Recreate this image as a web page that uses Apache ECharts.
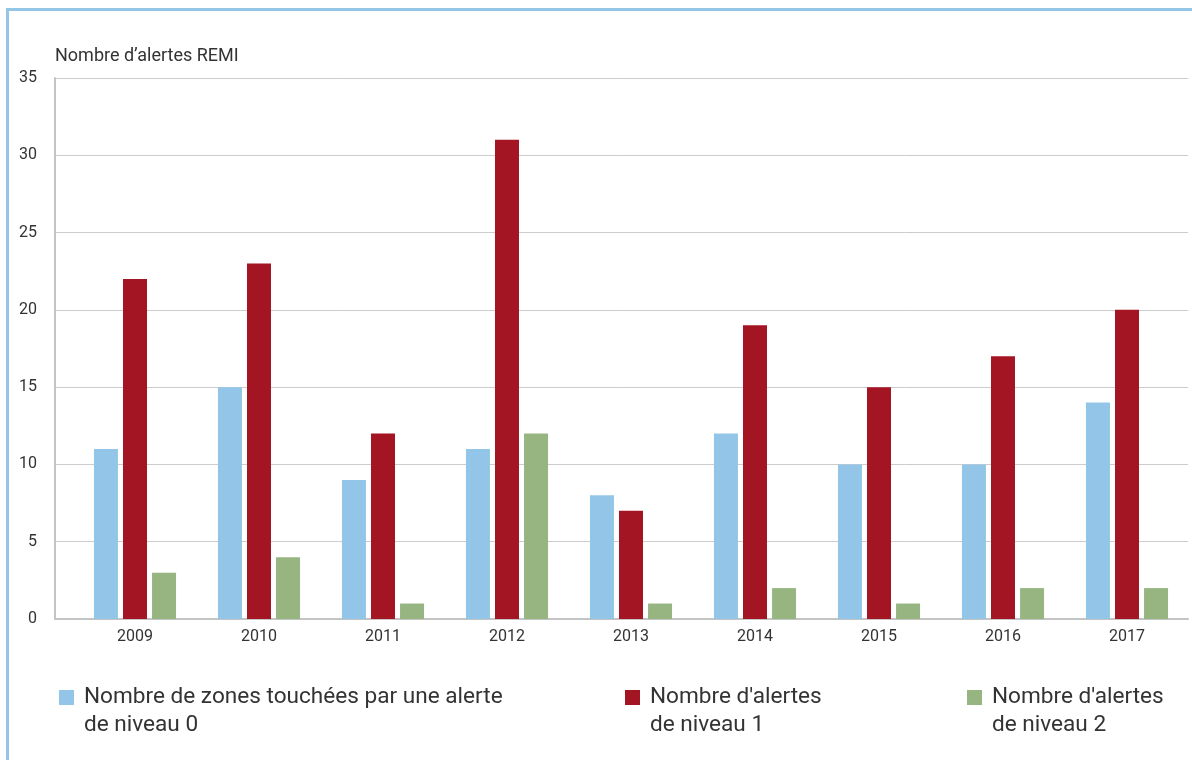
<!DOCTYPE html>
<html><head><meta charset="utf-8">
<script src="https://cdn.jsdelivr.net/npm/echarts@6/dist/echarts.min.js"></script>
<style>
html,body{margin:0;padding:0;background:#fff;}
#c{width:1192px;height:760px;position:absolute;left:0;top:0;}
#frame{position:absolute;left:6px;top:8px;width:1186px;height:752px;border-top:3px solid #93C5E9;border-left:3px solid #93C5E9;box-sizing:border-box;pointer-events:none;}
</style></head>
<body>
<div id="c"></div>
<div id="frame"></div>
<script>
const years = ['2009','2010','2011','2012','2013','2014','2015','2016','2017'];
const niveau0 = [11, 15, 9, 11, 8, 12, 10, 10, 14];
const niveau1 = [22, 23, 12, 31, 7, 19, 15, 17, 20];
const niveau2 = [3, 4, 1, 12, 1, 2, 1, 2, 2];
const names = ['Nombre de zones touchées par une alerte\nde niveau 0', "Nombre d'alertes\nde niveau 1", "Nombre d'alertes\nde niveau 2"];
const colors = ['#93C5E9', '#A31523', '#97B580'];
const yTitle = 'Nombre d\u2019alertes REMI';

const FONT = 'Roboto';
const chart = echarts.init(document.getElementById('c'), null, {renderer:'canvas'});
const legendIcon = 'path://M0,0H15V15H0Z M0,42L15,42';
function legend(i, left) {
  return {
    data: [names[i]], left: left, top: 683, padding: 0,
    itemWidth: 15, itemHeight: 42, itemGap: 0, icon: legendIcon,
    textStyle: {fontFamily: FONT, fontSize: 22.6, color: '#333', lineHeight: 28, padding: [0,0,0,5]},
    selectedMode: false
  };
}
chart.setOption({
  animation: false,
  textStyle: {fontFamily: FONT},
  grid: [
    {left: 55, right: 4, top: 78, bottom: 141},
    {left: 73, right: 3, top: 78, bottom: 141}
  ],
  legend: [legend(0, 59), legend(1, 625), legend(2, 967)],
  xAxis: [
    {type: 'category', gridIndex: 0, data: years, axisLine: {show: true, lineStyle: {color: '#c4c4c4', width: 2}},
     axisTick: {show: false}, axisLabel: {show: false}},
    {type: 'category', gridIndex: 1, data: years, axisLine: {show: false}, axisTick: {show: false},
     axisLabel: {fontFamily: FONT, fontSize: 16, color: '#333', margin: 10}}
  ],
  yAxis: [
    {type: 'value', gridIndex: 0, min: 0, max: 35, interval: 5,
     name: yTitle, nameLocation: 'end', nameGap: 13,
     nameTextStyle: {fontFamily: FONT, fontSize: 18, color: '#333', align: 'left'},
     axisLine: {show: true, lineStyle: {color: '#c4c4c4', width: 2}}, axisTick: {show: false},
     axisLabel: {fontFamily: FONT, fontSize: 16, color: '#333', margin: 18},
     splitLine: {lineStyle: {color: '#cccccc', width: 1}}},
    {type: 'value', gridIndex: 1, min: 0, max: 35, interval: 5, show: false}
  ],
  series: [niveau0, niveau1, niveau2].map((d, i) => ({
    name: names[i], type: 'bar', xAxisIndex: 1, yAxisIndex: 1, data: d,
    barWidth: 24, barGap: '21%', itemStyle: {color: colors[i]}
  }))
});
</script>
</body></html>
